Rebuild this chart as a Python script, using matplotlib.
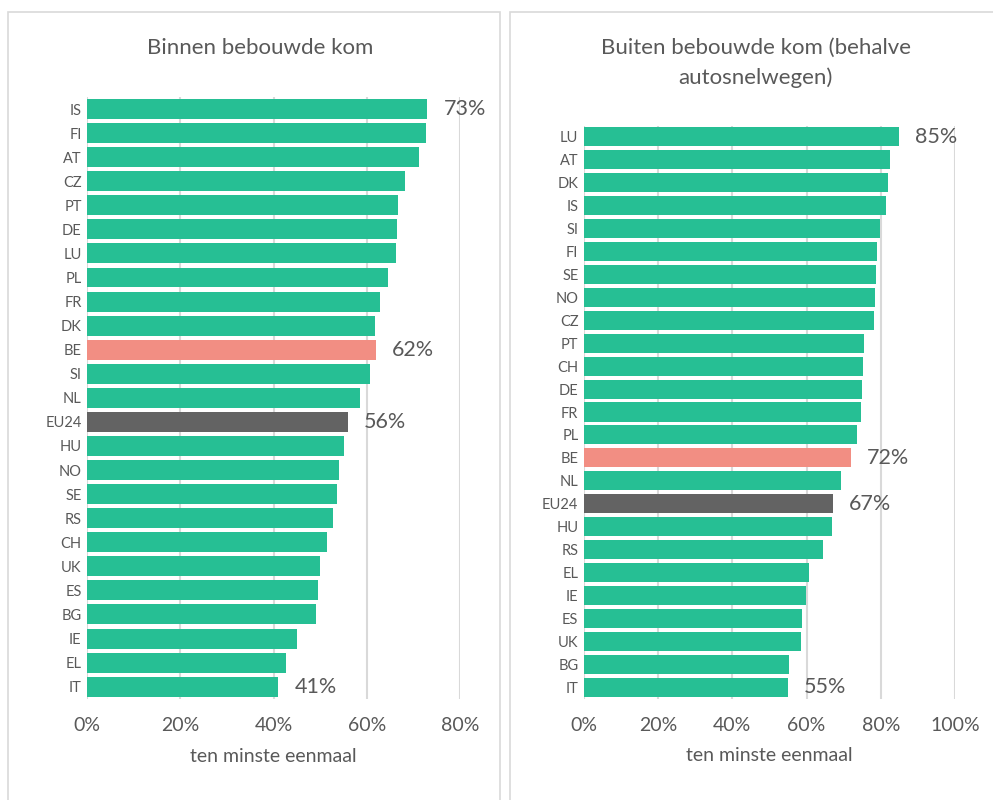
import matplotlib.pyplot as plt
from matplotlib.patches import Rectangle
from matplotlib.ticker import FuncFormatter

plt.rcParams['font.family'] = ['Lato', 'DejaVu Sans']

# binnen bebouwde kom (top -> bottom)
landen_binnen = ['IS', 'FI', 'AT', 'CZ', 'PT', 'DE', 'LU', 'PL', 'FR', 'DK', 'BE', 'SI', 'NL',
                 'EU24', 'HU', 'NO', 'SE', 'RS', 'CH', 'UK', 'ES', 'BG', 'IE', 'EL', 'IT']
waarden_binnen = [73, 72.7, 71.3, 68.2, 66.7, 66.5, 66.2, 64.6, 62.9, 61.8, 62, 60.7, 58.5,
                  56, 55.1, 54.0, 53.7, 52.8, 51.4, 49.9, 49.6, 49.0, 45.0, 42.7, 41]
label_binnen = ['IS', 'BE', 'EU24', 'IT']

# buiten bebouwde kom (behalve autosnelwegen)
landen_buiten = ['LU', 'AT', 'DK', 'IS', 'SI', 'FI', 'SE', 'NO', 'CZ', 'PT', 'CH', 'DE', 'FR',
                 'PL', 'BE', 'NL', 'EU24', 'HU', 'RS', 'EL', 'IE', 'ES', 'UK', 'BG', 'IT']
waarden_buiten = [85, 82.5, 81.9, 81.4, 79.8, 79.0, 78.7, 78.4, 78.3, 75.4, 75.1, 74.9, 74.6,
                  73.5, 72, 69.2, 67, 66.8, 64.5, 60.6, 59.8, 58.8, 58.4, 55.3, 55]
label_buiten = ['LU', 'BE', 'EU24', 'IT']

GROEN = '#26BF94'
ROOD = '#F28E83'
GRIJS = '#636363'
TEKST = '#595959'
RASTER = '#D9D9D9'

W, H = 993, 800
fig = plt.figure(figsize=(W / 100, H / 100), dpi=100)


def px_axes(x0, x1, y0, y1):
    return fig.add_axes([x0 / W, 1 - y1 / H, (x1 - x0) / W, (y1 - y0) / H])


def kleur(land):
    if land == 'BE':
        return ROOD
    if land == 'EU24':
        return GRIJS
    return GROEN


def teken(ax, landen, waarden, labels, xmax, titel, title_y):
    pos = range(len(landen))
    ax.barh(pos, waarden, height=0.83, color=[kleur(l) for l in landen], zorder=3)
    ax.set_ylim(len(landen) - 0.5, -0.5)
    ax.set_xlim(0, xmax)
    ax.set_yticks(list(pos))
    ax.set_yticklabels(landen, fontsize=10.5, color=TEKST)
    ax.set_xticks(range(0, xmax + 1, 20))
    ax.xaxis.set_major_formatter(FuncFormatter(lambda v, p: f'{v:.0f}%'))
    ax.tick_params(axis='x', labelsize=14, labelcolor=TEKST, length=0, pad=13)
    ax.tick_params(axis='y', length=0, pad=4)
    ax.grid(axis='x', color=RASTER, lw=1.5, zorder=0)
    for s in ax.spines.values():
        s.set_visible(False)
    ax.set_xlabel('ten minste eenmaal', fontsize=14, color=TEKST, labelpad=10)
    for i, (l, v) in enumerate(zip(landen, waarden)):
        if l in labels:
            ax.annotate(f'{v:.0f}%', (v, i), xytext=(16, 0), textcoords='offset pixels',
                        va='center', ha='left', fontsize=15.5, color=TEKST, zorder=4,
                        annotation_clip=False)
    bb = ax.get_position()
    fig.text((bb.x0 + bb.x1) / 2 - 0.014, 1 - title_y / H, titel, ha='center', va='center',
             fontsize=16, color=TEKST, linespacing=1.55)


ax1 = px_axes(87.3, 460, 97, 698.7)
teken(ax1, landen_binnen, waarden_binnen, label_binnen, 80, 'Binnen bebouwde kom', 48)

ax2 = px_axes(584, 955, 125.5, 698.5)
teken(ax2, landen_buiten, waarden_buiten, label_buiten, 100,
      'Buiten bebouwde kom (behalve\nautosnelwegen)', 63)

# panelranden
for x0, x1 in [(8, 500), (510, 1000)]:
    fig.patches.append(Rectangle((x0 / W, -0.05), (x1 - x0) / W, 1.05 - 12 / H,
                                 transform=fig.transFigure, fill=False,
                                 edgecolor=RASTER, lw=1.2))

fig.savefig('out.png', dpi=100)
